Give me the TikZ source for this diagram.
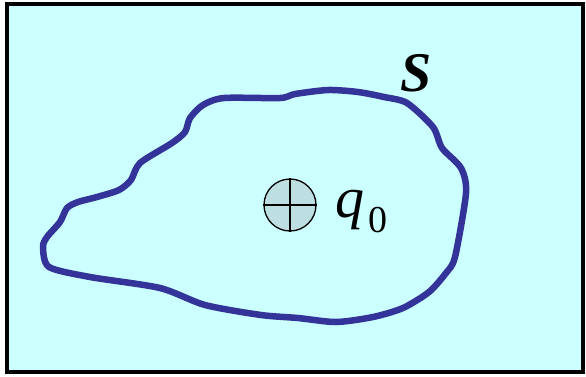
\documentclass[tikz,border=0pt]{standalone}
\usepackage{fontspec}
\newfontfamily\timesfont{Liberation Serif}
\usetikzlibrary{positioning}
\definecolor{cbg}{HTML}{CCFFFF}
\definecolor{cloop}{HTML}{333399}
\definecolor{ccharge}{HTML}{BEDFE2}
\tikzset{
  every picture/.style={x=1pt, y=-1pt},
  frame/.style={draw=black, fill=cbg, line width=4pt},
  surface/.style={draw=cloop, line width=6.5pt, line join=round},
  charge/.style={circle, draw=black, fill=ccharge, line width=1.3pt, minimum size=52pt, inner sep=0pt},
  tag/.style={inner sep=0pt, anchor=base west},
}

\begin{document}
\begin{tikzpicture}
  \useasboundingbox (0,0) rectangle (586,376);
  % background
  \draw[frame] (7,4) rectangle (583,371.5);
  % gaussian surface
  \draw[surface] plot[smooth cycle, tension=0.45] coordinates {
    (407,103) (433,127) (442,148) (461,168) (466,193) (455,257) (446,273)
    (429,292) (403,308) (373,317) (336,322) (298,318) (261,315) (205,305)
    (160,288) (90,277) (49,267) (43,247) (47,237) (60,222) (67,208)
    (78,202) (97,197) (119,190) (131,180) (140,163) (172,143) (185,132)
    (190,118) (203,105) (224,98) (280,98) (295,94) (328,90) (358,92) (384,97)};
  % point charge
  \node[charge] (q) at (290,205) {};
  \draw[line width=1.3pt] (q.north) -- (q.south) (q.west) -- (q.east);
  \node[tag, font=\timesfont\fontsize{58}{58}\selectfont\itshape] (qlab) at (335,217)
    {q\kern4pt\raisebox{-15pt}{\fontsize{38}{38}\selectfont\upshape 0}};
  \node[tag, font=\timesfont\fontsize{56}{56}\selectfont\bfseries\itshape] (S) at (400,91) {S};
\end{tikzpicture}
\end{document}
